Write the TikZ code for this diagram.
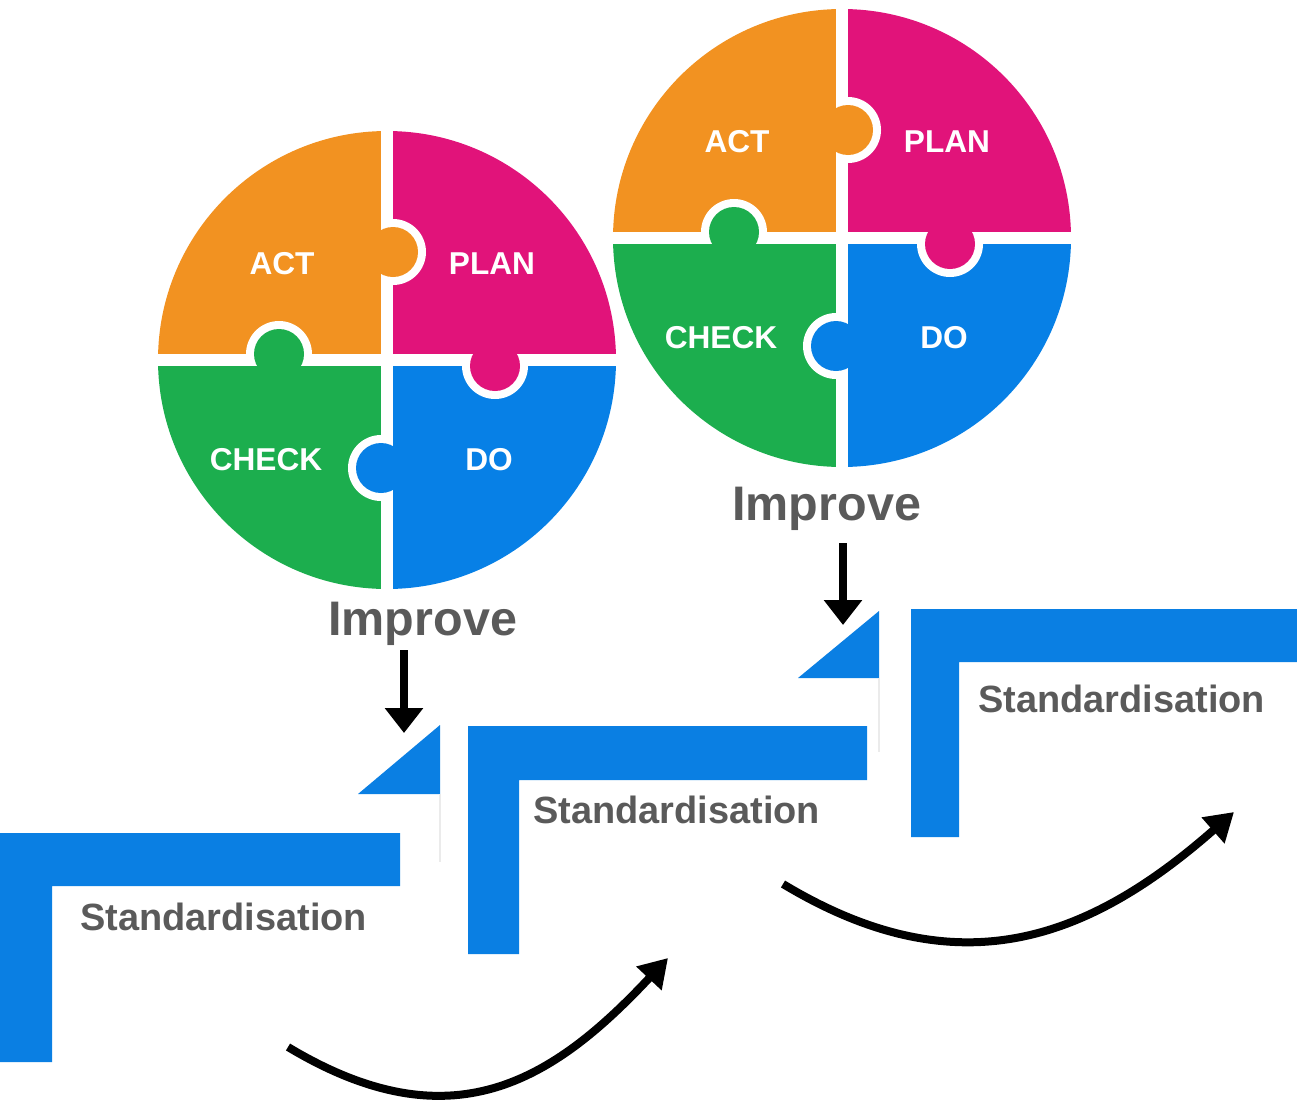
\documentclass[tikz,border=0pt]{standalone}
\usepackage{fontspec}
\setmainfont{Liberation Sans}
\usetikzlibrary{arrows.meta}

\definecolor{actc}{HTML}{F29221}
\definecolor{planc}{HTML}{E1137A}
\definecolor{checkc}{HTML}{1CAE4E}
\definecolor{doc}{HTML}{0780E6}
\definecolor{stepc}{HTML}{0A7FE3}
\definecolor{txtc}{HTML}{5A5A5A}

\tikzset{
  piece/.style={font=\bfseries\fontsize{18}{20}\selectfont, text=white, inner sep=0pt, anchor=base},
  improve/.style={font=\bfseries\fontsize{27.6}{30}\selectfont, text=txtc, inner sep=0pt, anchor=base west},
  stdlabel/.style={font=\bfseries\fontsize{21.6}{24}\selectfont, text=txtc, inner sep=0pt, anchor=base west},
  downarrow/.style={line width=0.15cm, -{Triangle[length=0.5cm,width=0.74cm]}},
  looparrow/.style={line width=0.16cm, -{Triangle[length=0.56cm,width=0.66cm]}},
}

\begin{document}
\begin{tikzpicture}[x=0.02cm, y=-0.02cm]
\useasboundingbox (0,0) rectangle (1297,1102);

% the two puzzle wheels
\foreach \cx/\cy/\w in {387/360/1, 842/238/2} {
  \begin{scope}[shift={(\cx,\cy)}]
    \begin{scope}
      \clip (0,0) circle[radius=229];
      \fill[actc] (-235,-235) rectangle (0,0);
      \fill[planc] (235,-235) rectangle (0,0);
      \fill[doc] (235,235) rectangle (0,0);
      \fill[checkc] (-235,235) rectangle (0,0);
    \end{scope}
    \draw[white, line width=0.24cm] (-235,0) -- (235,0);
    \draw[white, line width=0.24cm] (0,-235) -- (0,235);
    % knobs
    \begin{scope}
      \clip (6,-6) rectangle (235,-235);
      \fill[white] (6,-108) circle[radius=33];
    \end{scope}
    \fill[actc] (6,-108) circle[radius=25];
    \begin{scope}
      \clip (6,6) rectangle (235,235);
      \fill[white] (108,6) circle[radius=33];
    \end{scope}
    \fill[planc] (108,6) circle[radius=25];
    \begin{scope}
      \clip (-6,6) rectangle (-235,235);
      \fill[white] (-6,108) circle[radius=33];
    \end{scope}
    \fill[doc] (-6,108) circle[radius=25];
    \begin{scope}
      \clip (-6,-6) rectangle (-235,-235);
      \fill[white] (-108,-6) circle[radius=33];
    \end{scope}
    \fill[checkc] (-108,-6) circle[radius=25];
    % labels
    \node[piece] (act\w) at (-105,-86) {ACT};
    \node[piece] (plan\w) at (105,-86) {PLAN};
    \node[piece] (check\w) at (-121,110) {CHECK};
    \node[piece] (do\w) at (102,110) {DO};
  \end{scope}
}

% steps
\fill[stepc] (0,833) -- (400,833) -- (400,886) -- (52,886) -- (52,1062) -- (0,1062) -- cycle;
\fill[stepc] (468,726) -- (867,726) -- (867,780) -- (519,780) -- (519,954) -- (468,954) -- cycle;
\fill[stepc] (911,609) -- (1297,609) -- (1297,662) -- (959,662) -- (959,837) -- (911,837) -- cycle;
\fill[stepc] (440,725) -- (440,794) -- (358,794) -- cycle;
\fill[stepc] (879,611) -- (879,678) -- (798,678) -- cycle;
\draw[black!8, line width=0.03cm] (440,794) -- (440,862);
\draw[black!8, line width=0.03cm] (879,678) -- (879,752);

\node[stdlabel] (std1) at (80,930) {Standardisation};
\node[stdlabel] (std2) at (533,823) {Standardisation};
\node[stdlabel] (std3) at (978,712) {Standardisation};

\node[improve] (imp1) at (328,635) {Improve};
\node[improve] (imp2) at (732,520) {Improve};

\coordinate (tri1) at (404,733);
\coordinate (tri2) at (843,625);
\draw[downarrow, shorten <=0.1cm] (tri1 |- imp1.south) -- (tri1);
\draw[downarrow, shorten <=0.26cm] (tri2 |- imp2.south) -- (tri2);

% curved arrows
\coordinate (loop1a) at (288,1047);
\coordinate (loop1b) at (668,958);
\coordinate (loop2a) at (783,884);
\coordinate (loop2b) at (1234,812);
\draw[looparrow] (loop1a) .. controls (451,1145) and (552,1082) .. (loop1b);
\draw[looparrow] (loop2a) .. controls (954,987) and (1084,944) .. (loop2b);
\end{tikzpicture}
\end{document}
